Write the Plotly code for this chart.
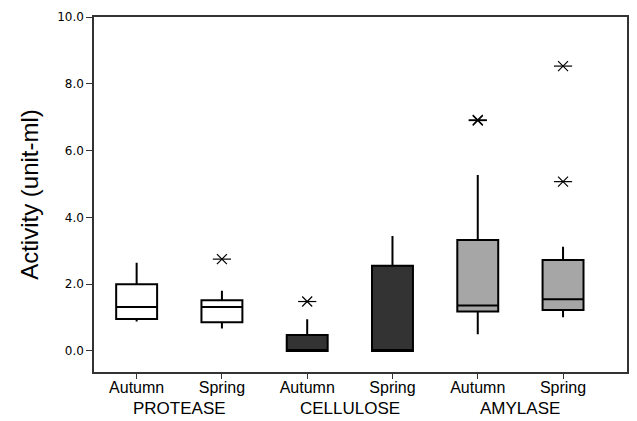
import plotly.graph_objects as go

# Data
enzymes = ["PROTEASE", "CELLULOSE", "AMYLASE"]
seasons = ["Autumn", "Spring"]
tick_labels = ["Autumn", "Spring", "Autumn", "Spring", "Autumn", "Spring"]
positions = [0, 1, 2, 3, 4, 5]
lower_fence = [0.88, 0.67, 0.0, 0.0, 0.50, 1.01]
q1 = [0.96, 0.86, 0.0, 0.0, 1.18, 1.23]
median = [1.32, 1.32, 0.0, 0.0, 1.36, 1.55]
q3 = [2.00, 1.52, 0.48, 2.55, 3.32, 2.72]
upper_fence = [2.64, 1.80, 0.95, 3.44, 5.27, 3.12]
outlier_x = [1, 2, 4, 4, 5, 5]
outlier_y = [2.75, 1.48, 6.90, 6.92, 5.07, 8.53]
fills = ["#ffffff", "#ffffff", "#333333", "#333333", "#a6a6a6", "#a6a6a6"]

fig = go.Figure()
for i in range(len(positions)):
    fig.add_trace(go.Box(
        x=[positions[i]], q1=[q1[i]], median=[median[i]], q3=[q3[i]],
        lowerfence=[lower_fence[i]], upperfence=[upper_fence[i]],
        fillcolor=fills[i], line=dict(color="black", width=2),
        whiskerwidth=0, width=0.48, boxpoints=False, showlegend=False,
        hoverinfo="skip",
    ))

for sym, sz in [("x-thin-open", 10), ("line-ew-open", 13)]:
    fig.add_trace(go.Scatter(
        x=outlier_x, y=outlier_y, mode="markers",
        marker=dict(symbol=sym, size=sz,
                    line=dict(color="black", width=1.2), color="black"),
        showlegend=False, hoverinfo="skip",
    ))

for k, name in enumerate(enzymes):
    fig.add_annotation(x=2 * k + 0.5, y=-0.104, xref="x", yref="paper",
                       yanchor="middle", text=name, showarrow=False,
                       font=dict(family="Liberation Sans, Arial", size=17, color="black"))

fig.update_layout(
    width=637, height=421,
    margin=dict(l=94, r=8, t=17, b=49),
    plot_bgcolor="white", paper_bgcolor="white",
    xaxis=dict(range=[-0.5, 5.75], tickvals=positions, ticktext=tick_labels,
               ticks="outside", ticklen=5, tickcolor="#333", showgrid=False,
               zeroline=False, showline=True, linecolor="#333", linewidth=1.5,
               mirror=True, ticklabelstandoff=-5,
               tickfont=dict(family="Liberation Sans, Arial", size=16, color="black")),
    yaxis=dict(range=[-0.63, 10.0], tickvals=[0, 2, 4, 6, 8, 10],
               ticktext=["0.0", "2.0", "4.0", "6.0", "8.0", "10.0"],
               ticks="outside", ticklen=6, tickcolor="#333", showgrid=False,
               zeroline=False, showline=True, linecolor="#333", linewidth=1.5,
               mirror=True,
               tickfont=dict(family="DejaVu Sans, Verdana", size=12, color="black"),
               title=dict(text="Activity (unit-ml)", standoff=12,
                          font=dict(family="Liberation Sans, Arial", size=24, color="black"))),
)

fig.write_html("out.html")
